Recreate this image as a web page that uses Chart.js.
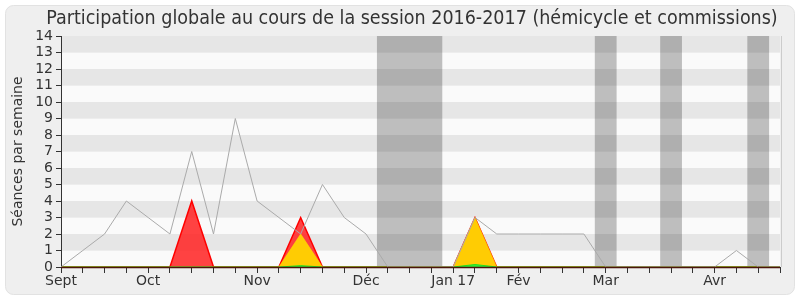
<!DOCTYPE html>
<html>
<head>
<meta charset="utf-8">
<script src="https://cdn.jsdelivr.net/npm/chart.js@4"></script>
<style>
  html, body { margin: 0; background: #fff; }
</style>
</head>
<body>
<canvas id="myChart" width="800" height="300"></canvas>
<script>
// une colonne par semaine, de septembre 2016 a fin avril 2017
const semaines = [
  "Sept", "", "", "", "Oct", "", "", "", "", "Nov", "", "", "", "", "Déc", "", "", "",
  "Jan 17", "", "", "Fév", "", "", "", "Mar", "", "", "", "", "Avr", "", "", "",
];

const total = [0, 1, 2, 4, 3, 2, 7, 2, 9, 4, 3, 2, 5, 3, 2, 0, 0, 0, 0, 3, 2, 2, 2, 2, 2, 0, 0, 0, 0, 0, 0, 1, 0, 0];
const presences = [0, 0, 0, 0, 0, 0, 4, 0, 0, 0, 0, 3, 0, 0, 0, 0, 0, 0, 0, 3, 0, 0, 0, 0, 0, 0, 0, 0, 0, 0, 0, 0, 0, 0];
const interventions = [0, 0, 0, 0, 0, 0, 0, 0, 0, 0, 0, 2, 0, 0, 0, 0, 0, 0, 0, 3, 0, 0, 0, 0, 0, 0, 0, 0, 0, 0, 0, 0, 0, 0];
const questions = [0, 0, 0, 0, 0, 0, 0, 0, 0, 0, 0, 0.08, 0, 0, 0, 0, 0, 0, 0, 0.15, 0, 0, 0, 0, 0, 0, 0, 0, 0, 0, 0, 0, 0, 0];

// periodes de vacances parlementaires (en semaines)
const vacances = [[14.5, 17.5], [24.5, 25.5], [27.5, 28.5], [31.5, 32.5]];

const titre = "Participation globale au cours de la session 2016-2017 (hémicycle et commissions)";

const fond = {
  id: "fond",
  beforeDraw(chart) {
    const { ctx, chartArea: a, scales } = chart;
    ctx.save();
    ctx.fillStyle = "#ffffff";
    ctx.fillRect(0, 0, chart.width, chart.height);
    ctx.beginPath();
    ctx.roundRect(5.5, 5.5, 789, 289, 8);
    ctx.fillStyle = "#efefef";
    ctx.fill();
    ctx.strokeStyle = "#e2e2e2";
    ctx.stroke();

    // bandes horizontales
    for (let i = 0; i < 14; i++) {
      const y1 = scales.y.getPixelForValue(i + 1);
      const y0 = scales.y.getPixelForValue(i);
      ctx.fillStyle = i % 2 === 1 ? "#e6e6e6" : "#fafafa";
      ctx.fillRect(a.left, y1, a.right - a.left, y0 - y1);
    }
    // vacances
    ctx.fillStyle = "rgba(0,0,0,0.24)";
    vacances.forEach(([d, f]) => {
      const x0 = scales.x.getPixelForValue(d);
      const x1 = scales.x.getPixelForValue(f);
      ctx.fillRect(x0, a.top, x1 - x0, a.bottom - a.top);
    });
    ctx.strokeStyle = "#cccccc";
    ctx.beginPath();
    ctx.moveTo(a.right + 1.5, a.top);
    ctx.lineTo(a.right + 1.5, a.bottom);
    ctx.stroke();
    ctx.restore();
  },
  afterDatasetsDraw(chart) {
    // ligne de base brun fonce
    const { ctx, chartArea: a, scales } = chart;
    const y0 = Math.round(scales.y.getPixelForValue(0)) + 0.5;
    ctx.save();
    ctx.strokeStyle = "#4a1408";
    ctx.lineWidth = 1.5;
    ctx.beginPath();
    ctx.moveTo(a.left, y0);
    ctx.lineTo(a.right, y0);
    ctx.stroke();
    ctx.restore();
  },
  afterDraw(chart) {
    const ctx = chart.ctx;
    ctx.save();
    ctx.font = '19.5px "DejaVu Sans Condensed", "DejaVu Sans"';
    ctx.fillStyle = "#333333";
    ctx.textAlign = "center";
    ctx.textBaseline = "middle";
    ctx.fillText(titre, 412, 19);
    ctx.restore();
  },
};

const police = { family: "'DejaVu Sans', sans-serif", size: 14 };

const config = {
  type: "line",
  data: {
    labels: semaines,
    datasets: [
      {
        label: "Total",
        data: total,
        borderColor: "#aaaaaa",
        borderWidth: 1,
        fill: false,
        order: 0,
      },
      {
        label: "Questions",
        data: questions,
        borderColor: "#22dd22",
        backgroundColor: "#33ee33",
        borderWidth: 1,
        fill: "origin",
        order: 1,
      },
      {
        label: "Interventions",
        data: interventions,
        borderColor: "rgba(255,220,0,0.6)",
        backgroundColor: "rgba(255,212,0,0.95)",
        borderWidth: 1,
        fill: "origin",
        order: 2,
      },
      {
        label: "Présences",
        data: presences,
        borderColor: "#ff0000",
        backgroundColor: "rgba(255,40,40,0.88)",
        borderWidth: 1.5,
        fill: "origin",
        order: 3,
      },
    ],
  },
  options: {
    responsive: false,
    animation: false,
    layout: {
      padding: { top: 36, right: 20, bottom: 5, left: 0 },
    },
    elements: {
      point: { radius: 0 },
      line: { tension: 0 },
    },
    plugins: {
      legend: { display: false },
      tooltip: { enabled: false },
    },
    scales: {
      x: {
        type: "category",
        grid: { drawOnChartArea: false, tickLength: 6, color: "#333333" },
        border: { color: "#333333" },
        ticks: { autoSkip: false, maxRotation: 0, color: "#333333", font: police, padding: 0 },
        afterFit(s) { s.height = 28; },
      },
      y: {
        min: 0,
        max: 14,
        grid: { drawOnChartArea: false, tickLength: 5, color: "#333333" },
        border: { color: "#333333" },
        ticks: { stepSize: 1, autoSkip: false, color: "#333333", font: police, padding: 3 },
        title: {
          display: true,
          text: "Séances par semaine",
          color: "#333333",
          font: police,
          padding: { top: 10, bottom: 0 },
        },
        afterFit(s) { s.width = 61; },
      },
    },
  },
  plugins: [fond],
};

const myChart = new Chart(document.getElementById("myChart"), config);
</script>
</body>
</html>
